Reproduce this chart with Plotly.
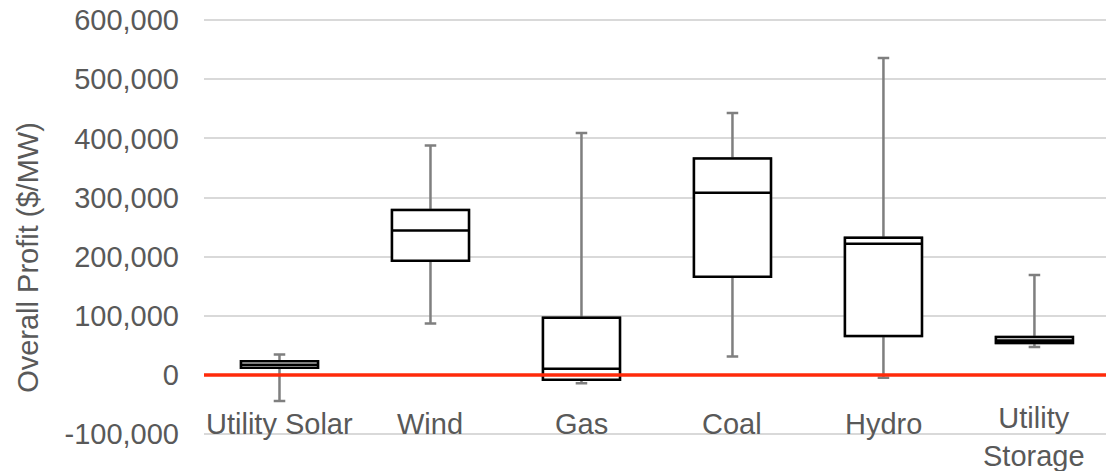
import plotly.graph_objects as go

categories = ["Utility Solar", "Wind", "Gas", "Coal", "Hydro", "Utility Storage"]
labels = ["Utility Solar", "Wind", "Gas", "Coal", "Hydro", "Utility<br>Storage"]
lower = [-44000, 87000, -14000, 31000, -5000, 47000]
q1 = [12000, 193000, -8000, 166000, 66000, 54000]
median = [17000, 244000, 10500, 308000, 222000, 58000]
q3 = [23000, 279000, 96500, 366000, 232000, 64000]
upper = [34500, 388000, 409000, 443000, 536000, 169000]
tick_vals = [-100000, 0, 100000, 200000, 300000, 400000, 500000, 600000]
tick_text = ["-100,000", "0", "100,000", "200,000", "300,000", "400,000", "500,000", "600,000"]
label_top = [-52000, -52000, -52000, -52000, -52000, -43000]

FONT = "Liberation Sans, Arial"
GREY_TXT = "#595959"

fig = go.Figure()
# whiskers (gray)
fig.add_trace(go.Box(
    x=categories, q1=q1, median=median, q3=q3,
    lowerfence=lower, upperfence=upper, width=0.51,
    line=dict(color="#7f7f7f", width=2.5), fillcolor="white",
    whiskerwidth=0.15, boxpoints=False, showlegend=False, hoverinfo="skip"))
# box (black)
fig.add_trace(go.Box(
    x=categories, q1=q1, median=median, q3=q3,
    lowerfence=q1, upperfence=q3, width=0.51,
    line=dict(color="black", width=2.5), fillcolor="white",
    whiskerwidth=0, boxpoints=False, showlegend=False, hoverinfo="skip"))

fig.add_shape(type="line", xref="paper", yref="y", x0=0, x1=1, y0=0, y1=0,
              line=dict(color="#ff2a0a", width=3.5), layer="above")

for c, lab, ly in zip(categories, labels, label_top):
    fig.add_annotation(x=c, y=ly, xref="x", yref="y", text=lab, showarrow=False,
                       font=dict(family=FONT, size=29, color=GREY_TXT),
                       yanchor="top", xanchor="center")

fig.add_annotation(x=-0.196, y=0.423, xref="paper", yref="paper",
                   text="Overall Profit ($/MW)", textangle=-90, showarrow=False,
                   font=dict(family=FONT, size=29, color=GREY_TXT),
                   xanchor="center", yanchor="middle")

fig.update_layout(
    width=1106, height=471,
    margin=dict(l=204, r=0, t=13, b=34),
    paper_bgcolor="white", plot_bgcolor="white",
    boxmode="overlay",
    font=dict(family=FONT, size=29, color=GREY_TXT),
    xaxis=dict(type="category", range=[-0.5, 5.474], showticklabels=False,
               showgrid=False, zeroline=False, showline=False, ticks="",
               automargin=False),
    yaxis=dict(range=[-105000, 612000], tickvals=tick_vals, ticktext=tick_text,
               showgrid=True, gridcolor="#d9d9d9", gridwidth=1.5,
               zeroline=False, showline=False, ticks="", ticklen=0,
               ticklabelstandoff=24, automargin=False,
               tickfont=dict(family=FONT, size=29, color=GREY_TXT)),
)
fig.write_html("out.html", config={"displayModeBar": False},
               post_script="document.body.style.margin='0px';document.body.style.overflow='hidden';")
